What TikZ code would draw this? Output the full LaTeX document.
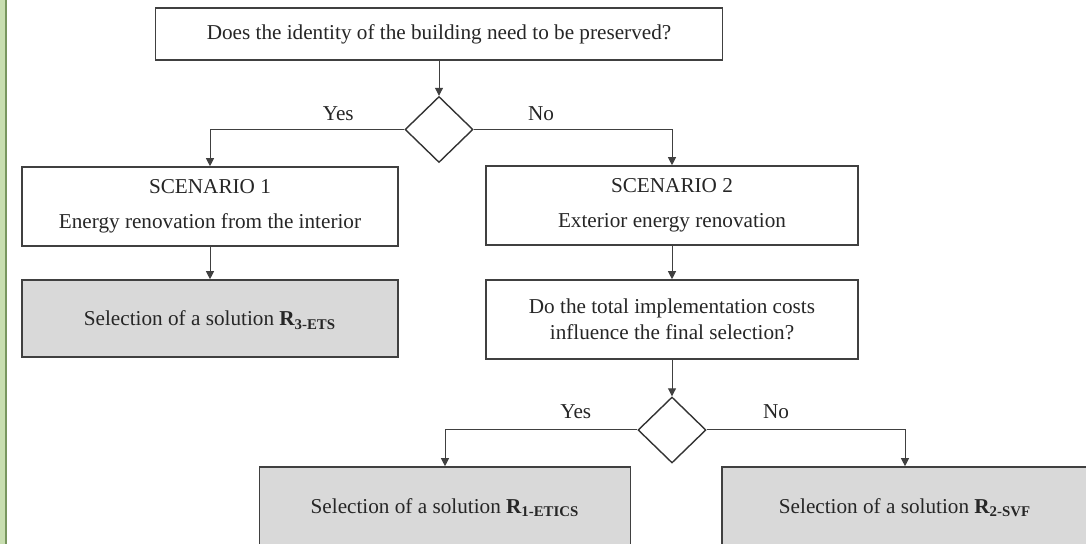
\documentclass[tikz,border=0pt]{standalone}
\usepackage{fontspec}
\setmainfont{Liberation Serif}
\usetikzlibrary{arrows.meta,positioning,shapes.geometric}
\definecolor{fcgray}{RGB}{217,217,217}
\definecolor{fcgreen}{RGB}{200,222,176}
\definecolor{fcgreendark}{RGB}{120,150,95}
\newcommand{\Sol}[2]{\textbf{R\textsubscript{#1-#2}}}
\tikzset{
  fcbox/.style={draw=black!75, line width=0.8pt, fill=white, align=center, inner sep=0pt, font=\fontsize{10.6}{12.7}\selectfont, text=black!85},
  fcgraybox/.style={fcbox, fill=fcgray, text depth=0pt},
  fcdiamond/.style={diamond, draw=black!80, line width=0.7pt, fill=white, inner sep=0pt, minimum width=34pt, minimum height=33pt},
  fcline/.style={-{Triangle[length=4pt,width=4pt]}, line width=0.5pt, draw=black!75},
  fclabel/.style={font=\fontsize{10.6}{12.7}\selectfont, text=black!85}
}

\begin{document}
\begin{tikzpicture}[x=0.5pt, y=-0.5pt]
  \useasboundingbox (0,0) rectangle (1086,544);
  \clip (0,0) rectangle (1086,544);
  \fill[white] (0,0) rectangle (1086,544);
  % left margin strip
  \fill[fcgreen] (0,0) rectangle (7,544);
  \draw[fcgreendark, line width=1pt] (5.5,0) -- (5.5,544);

  \node[fcbox, minimum width=283.5pt, minimum height=26pt] (ident) at (439,34) {Does the identity of the building need to be preserved?};
  \node[fcdiamond] (q1) at (439,129.5) {};
  \node[fcbox, minimum width=188pt, minimum height=39.5pt] (scen1) at (210,206.5) {SCENARIO 1\\[5pt]Energy renovation from the interior};
  \node[fcbox, minimum width=186pt, minimum height=39.5pt] (scen2) at (672,205.5) {SCENARIO 2\\[5pt]Exterior energy renovation};
  \node[fcgraybox, minimum width=188pt, minimum height=38.5pt] (r3) at (210,318.5) {Selection of a solution \Sol{3}{ETS}};
  \node[fcbox, minimum width=186pt, minimum height=39.5pt] (cost) at (672,319.5) {Do the total implementation costs\\[0.3pt]influence the final selection?};
  \node[fcdiamond] (q2) at (672,430) {};
  \node[fcgraybox, minimum width=185.5pt, minimum height=39pt] (r1) at (445,506) {Selection of a solution \Sol{1}{ETICS}};
  \node[fcgraybox, minimum width=183pt, minimum height=39pt] (r2) at (905,506) {Selection of a solution \Sol{2}{SVF}};

  \draw[fcline] (ident) -- (q1);
  \draw[fcline] (q1.west) -| node[fclabel, above, pos=0.17, yshift=1pt] {Yes} (scen1.north);
  \draw[fcline] (q1.east) -| node[fclabel, above, pos=0.17, yshift=1pt] {No} (scen2.north);
  \draw[fcline] (scen1) -- (r3);
  \draw[fcline] (scen2) -- (cost);
  \draw[fcline] (cost) -- (q2);
  \draw[fcline] (q2.west) -| node[fclabel, above, pos=0.16, yshift=2pt] {Yes} (r1.north);
  \draw[fcline] (q2.east) -| node[fclabel, above, pos=0.175, yshift=2pt] {No} (r2.north);
\end{tikzpicture}
\end{document}
